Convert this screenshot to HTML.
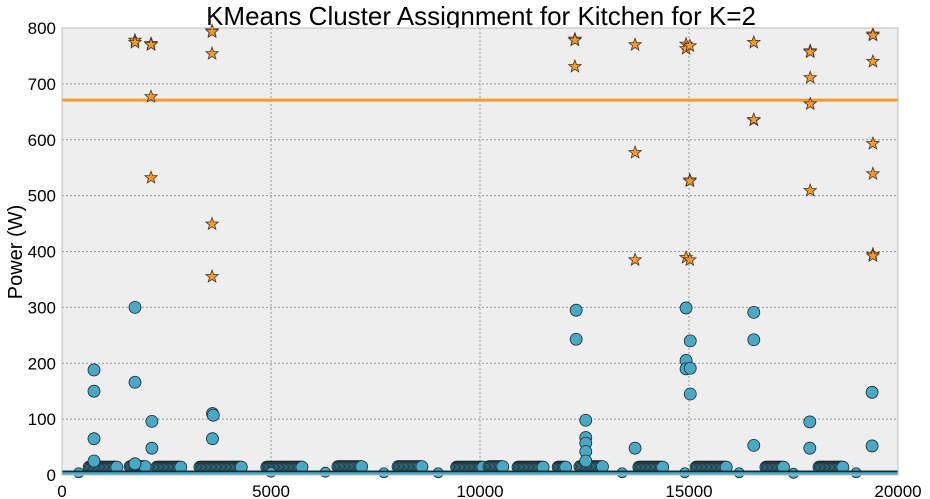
<!DOCTYPE html>
<html><head><meta charset="utf-8">
<style>
body{margin:0;background:#fff;}
svg{display:block;font-family:"Liberation Sans","DejaVu Sans",sans-serif;}
</style></head>
<body>
<svg id="chart" width="930" height="499" viewBox="0 0 930 499" xmlns="http://www.w3.org/2000/svg">
<text x="481" y="25" font-size="26" text-anchor="middle" fill="#000">KMeans Cluster Assignment for Kitchen for K=2</text>
<text transform="translate(22,252) rotate(-90)" font-size="20" text-anchor="middle" fill="#000">Power (W)</text>
</svg>
<script>
const xTicks=[0,5000,10000,15000,20000];
const yTicks=[0,100,200,300,400,500,600,700,800];
const threshold=671;
const starX=[1746,1746,2130,2130,2130,2130,3590,3590,3590,3590,3590,12270,12270,12270,13710,13710,13710,14930,14930,14930,15020,15020,15020,15020,16550,16550,16550,17900,17900,17900,17900,17900,19400,19400,19400,19400,19400,19400,19400];
const starY=[778,774,772,770,677,532,795,793,754,449,355,780,778,731,770,577,385,771,763,389,768,528,526,385,774,635,636,759,757,711,664,509,789,787,740,593,539,395,392];
const outX=[766,766,766,766,1746,1746,1746,2150,2150,3600,3620,3600,12300,12300,12530,12530,12530,12530,12530,13710,14930,14930,14930,15030,15030,15030,16550,16550,16550,17890,17890,19380,19380];
const outY=[188,150,65,25,300,166,20,96,48,110,107,65,295,243,98,67,57,42,25,48,299,205,190,240,191,145,291,242,53,95,48,148,52];
const clusterStart=[650,1630,2270,3300,4900,6600,8040,9440,10215,10910,11870,12390,13800,15170,16840,18110];
const clusterEnd=[1320,1990,2850,4300,5740,7180,8610,10070,10550,11510,12060,12940,14380,15910,17270,18680];
const clusterVal=[14,15,14,14,14,15,15,14,15,14,14,15,14,14,14,14];
const lowX=[400,6300,7700,9000,13400,16200,17500,19000,14900,5000];
const lowY=[4,5,4,4,4,4,3,4,4,5];

const L=62,R=898,T=28,B=475;
const sx=v=>L+(v-0)/(20000)*(R-L);
const sy=v=>B-(v/800)*(B-T);
const svg=document.getElementById('chart');
const NS='http://www.w3.org/2000/svg';
function mk(tag,attrs,parent){const e=document.createElementNS(NS,tag);for(const k in attrs)e.setAttribute(k,attrs[k]);(parent||svg).appendChild(e);return e;}

const bg=mk('rect',{x:L,y:T,width:R-L,height:B-T,fill:'#eeeeee'});



const grid=mk('g',{});


xTicks.forEach(t=>{
  if(t>0&&t<20000){const l=mk('line',{x1:sx(t),x2:sx(t),y1:T,y2:B,stroke:'#999',"stroke-dasharray":'2,2','stroke-width':1},grid);
  
  }
  const tx=mk('text',{x:sx(t),y:B+22,'font-size':17,'text-anchor':'middle',fill:'#000'});
  
  
  tx.textContent=t;
});
yTicks.forEach(t=>{
  if(t>0&&t<800){const l=mk('line',{x1:L,x2:R,y1:sy(t),y2:sy(t),stroke:'#999',"stroke-dasharray":'2,2','stroke-width':1},grid);
  
  }
  const tx=mk('text',{x:L-6,y:sy(t)+6,'font-size':17,'text-anchor':'end',fill:'#000'});
  
  
  tx.textContent=t;
});

const blue=mk('g',{fill:'#4aa8c4',stroke:'#1a2a30','stroke-width':0.8});


clusterStart.forEach((s,i)=>{
  for(let x=s;x<=clusterEnd[i];x+=30){
    const c=mk('circle',{cx:sx(x),cy:sy(clusterVal[i]),r:6},blue);
    
    
  }
});
lowX.forEach((x,i)=>{
  const c=mk('circle',{cx:sx(x),cy:sy(lowY[i]),r:5},blue);
  
  
});
const bandTop=mk('rect',{x:L,y:sy(8),width:R-L,height:2,fill:'#1a2a30'});


const band=mk('rect',{x:L,y:sy(5),width:R-L,height:sy(0)-sy(5),fill:'#4aa8c4'});


outX.forEach((x,i)=>{
  const c=mk('circle',{cx:sx(x),cy:sy(outY[i]),r:6},blue);
  
  
});

const th=mk('line',{x1:L,x2:R,y1:sy(threshold),y2:sy(threshold),stroke:'#f59a30','stroke-width':3});



function starPath(cx,cy,r){let p='';for(let k=0;k<10;k++){const rr=k%2?r*0.42:r;const a=-Math.PI/2+k*Math.PI/5;p+=(k?'L':'M')+(cx+rr*Math.cos(a)).toFixed(2)+','+(cy+rr*Math.sin(a)).toFixed(2);}return p+'Z';}
const stars=mk('g',{fill:'#f59a30',stroke:'#4a3520','stroke-width':0.8});


starX.forEach((x,i)=>{
  const s=mk('path',{d:starPath(sx(x),sy(starY[i]),6.5)},stars);
  
  
});

const frame=mk('rect',{x:L,y:T,width:R-L,height:B-T,fill:'none',stroke:'#bcbcbc','stroke-width':1});


</script>
</body></html>
